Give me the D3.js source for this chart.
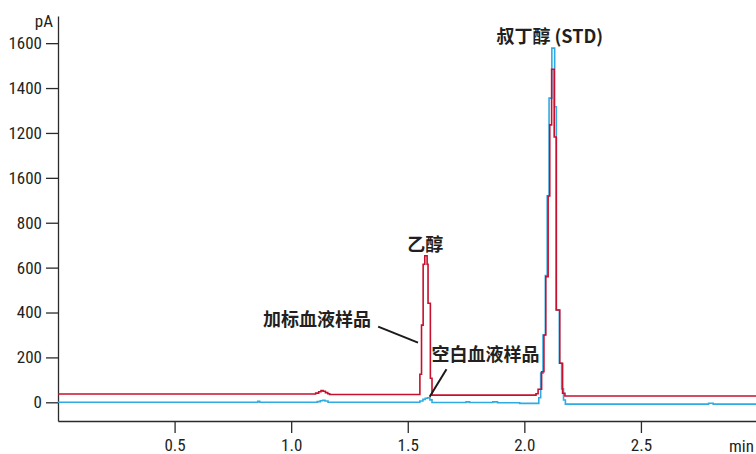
<!DOCTYPE html>
<html><head><meta charset="utf-8">
<script src="https://cdn.jsdelivr.net/npm/d3@7/dist/d3.min.js"></script>
<style>
body{margin:0;background:#fff}
.tick text,.unit{font-family:"Liberation Sans Narrow","Roboto Condensed","Roboto",sans-serif;font-size:17px;fill:#231f20}
.lbl{font-family:"Noto Sans CJK SC",sans-serif;font-weight:bold;font-size:18px;fill:#231f20}
</style>
</head><body><svg id="c" width="756" height="454"></svg>
<script>
const yTickValues = [0, 200, 400, 600, 800, 1000, 1200, 1400, 1600];
const yTickLabels = ["0", "200", "400", "600", "800", "1600", "1200", "1400", "1600"];
const xTickValues = [0.5, 1.0, 1.5, 2.0, 2.5];
const xTickLabels = ["0.5", "1.0", "1.5", "2.0", "2.5"];

// Spiked blood sample (red)
const spikedTime   = [0, 1.105, 1.118, 1.128, 1.137, 1.147, 1.157, 1.165, 1.552, 1.559, 1.566, 1.573, 1.583, 1.587, 1.597, 1.604, 2.050, 2.059, 2.074, 2.084, 2.092, 2.102, 2.109, 2.117, 2.128, 2.137, 2.152, 2.164, 2.174, 2.995];
const spikedSignal = [37, 41, 47, 52, 49, 43, 38, 35, 125, 344, 615, 653, 615, 441, 107, 32, 38, 58, 136, 300, 560, 919, 1236, 1484, 1182, 411, 174, 40, 28, 28];

// Blank blood sample (blue)
const blankTime   = [0, 0.857, 0.865, 1.112, 1.125, 1.135, 1.145, 1.158, 1.552, 1.565, 1.575, 1.585, 1.595, 1.604, 1.750, 1.765, 1.865, 1.885, 1.980, 2.062, 2.070, 2.080, 2.090, 2.098, 2.106, 2.118, 2.130, 2.137, 2.150, 2.160, 2.168, 2.176, 2.790, 2.810, 2.995];
const blankSignal = [0, 5, 0, 3, 7, 9, 6, 0, 6, 13, 18, 20, 11, -1, 2, -1, 2, -2, -5, 20, 130, 300, 565, 920, 1355, 1578, 1317, 411, 174, 60, 10, -8, -4, -8, -8];

// Annotation texts and anchors (data units)
const labelTexts = ["叔丁醇 (STD)", "乙醇", "加标血液样品", "空白血液样品"];
const labelTime  = [2.109, 1.575, 1.111, 1.833];
const labelValue = [1637, 711, 374, 218];
const leaderFrom = [[1.373, 337], [1.666, 147]];
const leaderTo   = [[1.544, 266], [1.594, 25]];

const svg = d3.select("#c");
const x = d3.scaleLinear().domain([0, 2.9935]).range([58, 756]);
const y = d3.scaleLinear().domain([-83.3, 1721]).range([421, 16]);

const ax = svg.append("g").attr("transform", "translate(0,421)")
  .call(d3.axisBottom(x).tickValues(xTickValues).tickFormat((d, i) => xTickLabels[i])
    .tickSize(12).tickSizeOuter(0).tickPadding(6));
const ay = svg.append("g").attr("transform", "translate(58,0)")
  .call(d3.axisLeft(y).tickValues(yTickValues).tickFormat((d, i) => yTickLabels[i])
    .tickSize(12).tickSizeOuter(0).tickPadding(4));
svg.selectAll(".domain, .tick line").attr("stroke", "#2b2b2b").attr("stroke-width", 1.3);
svg.selectAll(".tick text").attr("fill", "#231f20");

svg.append("text").attr("class", "unit").attr("x", 53).attr("y", 27).attr("text-anchor", "end").text("pA");
svg.append("text").attr("class", "unit").attr("x", 754).attr("y", 451.5).attr("text-anchor", "end").text("min");

const line = d3.line().x(d => x(d[0])).y(d => y(d[1])).curve(d3.curveStepAfter);
svg.append("path").datum(blankTime.map((t, i) => [t, blankSignal[i]]))
  .attr("d", line).attr("fill", "none").attr("stroke", "#2fabe3").attr("stroke-width", 1.6);
svg.append("path").datum(spikedTime.map((t, i) => [t, spikedSignal[i]]))
  .attr("d", line).attr("fill", "none").attr("stroke", "#c8102e").attr("stroke-width", 1.6);

leaderFrom.forEach((f, i) => {
  svg.append("line").attr("x1", x(f[0])).attr("y1", y(f[1]))
    .attr("x2", x(leaderTo[i][0])).attr("y2", y(leaderTo[i][1]))
    .attr("stroke", "#1a1a1a").attr("stroke-width", 2);
});
labelTexts.forEach((t, i) => {
  svg.append("text").attr("class", "lbl").attr("x", x(labelTime[i])).attr("y", y(labelValue[i]))
    .attr("text-anchor", "middle").attr("dominant-baseline", "central").text(t);
});
</script>
</body></html>
